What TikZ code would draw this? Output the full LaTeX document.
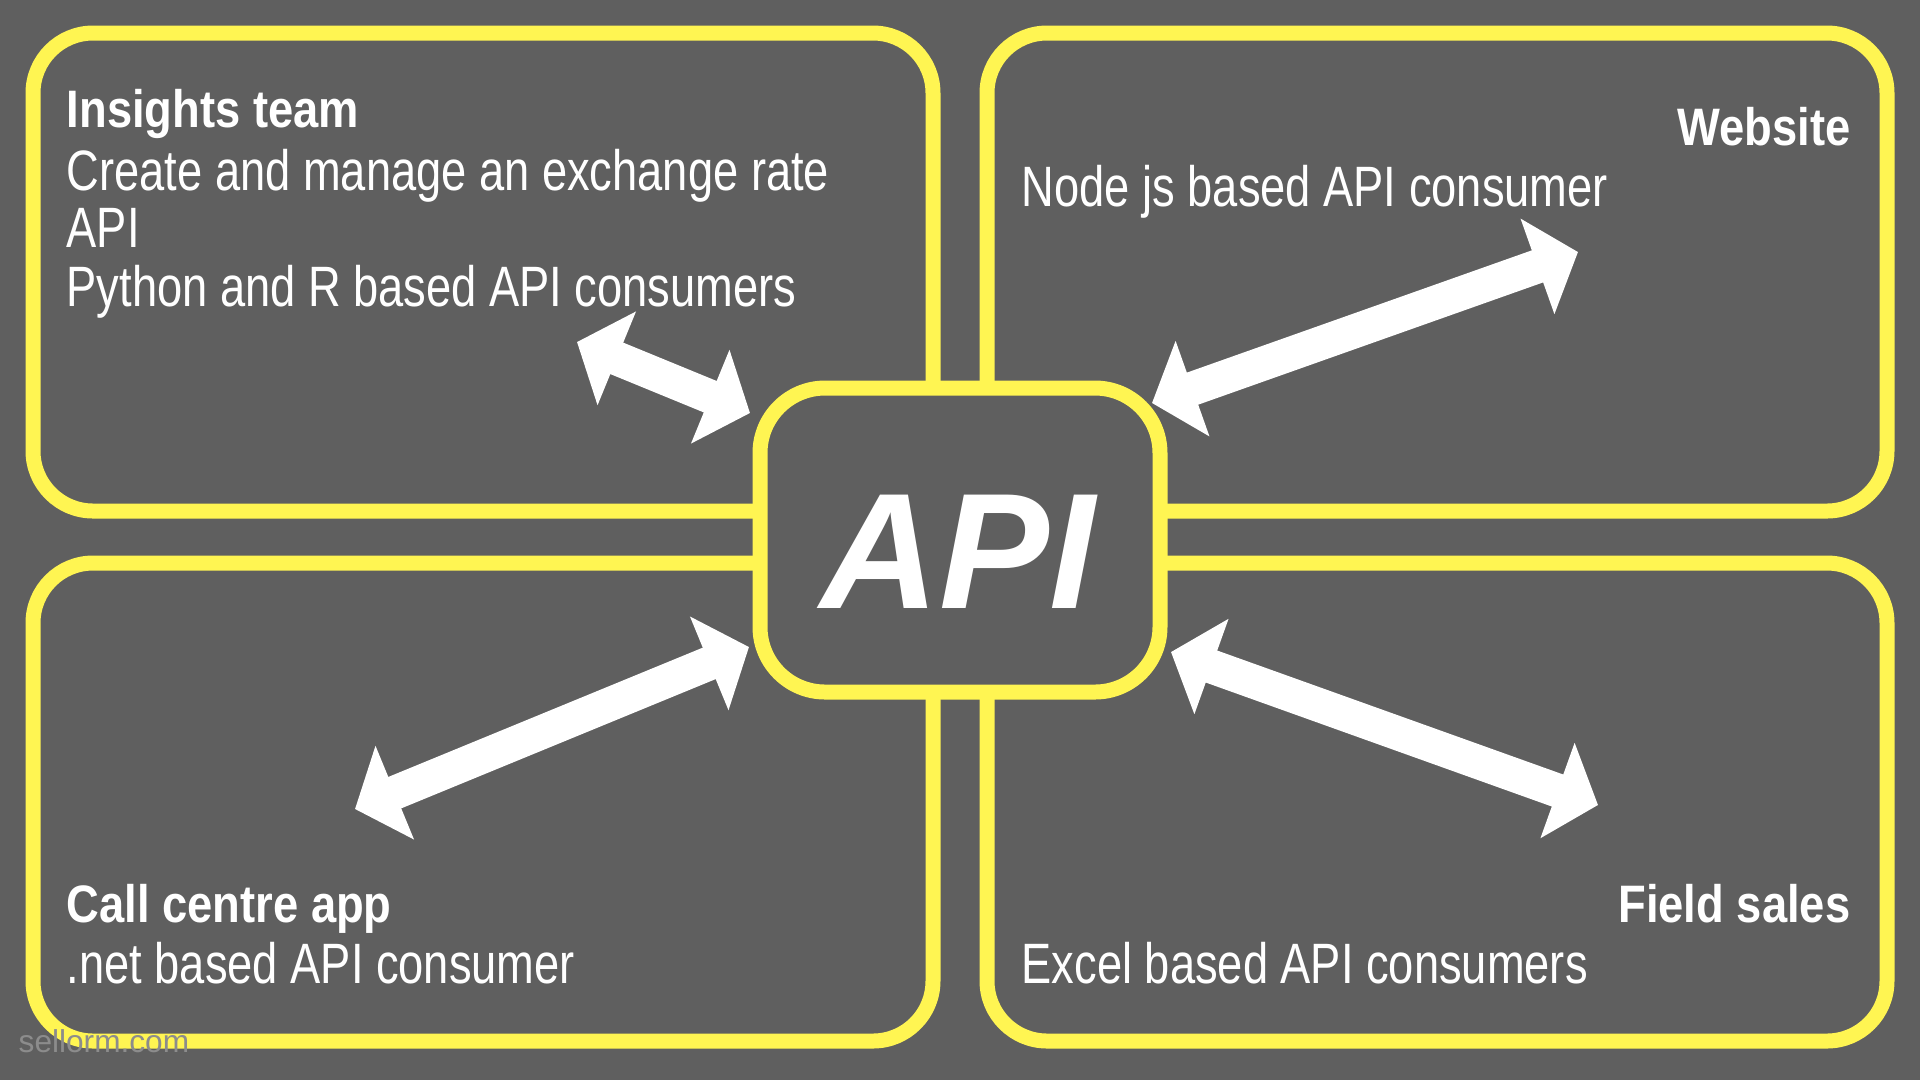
\documentclass[tikz,border=0pt]{standalone}
\usepackage{fontspec}
\usetikzlibrary{arrows.meta}
\newfontfamily\bodyfont[FakeStretch=0.795]{Liberation Sans}
\newfontfamily\headfont[FakeStretch=0.86]{Liberation Sans}
\newfontfamily\apifont{Liberation Sans}
\newfontfamily\markfont{Liberation Sans}
\definecolor{slate}{HTML}{5F5F5F}
\definecolor{lemon}{HTML}{FFF552}
\definecolor{markgray}{HTML}{8C8C8C}

\begin{document}
\begin{tikzpicture}[x=0.1mm,y=-0.1mm]
  \tikzset{
    panel/.style={draw=lemon,line width=1.5mm,rounded corners=6mm,minimum width=90mm,minimum height=47.8mm},
    head/.style={text=white,inner sep=0,font=\headfont\bfseries\fontsize{15}{16}\selectfont},
    body/.style={text=white,inner sep=0,font=\bodyfont\fontsize{16.2}{18}\selectfont},
    twoway/.style={draw=white,line width=3.4mm,{Triangle[length=4.3mm,width=9.9mm]}-{Triangle[length=4.3mm,width=9.9mm]}}
  }
  \fill[slate] (0,0) rectangle (1920,1080);
  \useasboundingbox (0,0) rectangle (1920,1080);

  % the four teams
  \node[panel] (insightsbox) at (483,272) {};
  \node[panel] (websitebox) at (1437,272) {};
  \node[panel] (callbox) at (483,802) {};
  \node[panel] (fieldbox) at (1437,802) {};

  % the api in the middle
  \node[draw=lemon,fill=slate,line width=1.5mm,rounded corners=6.5mm,minimum width=40mm,minimum height=30.4mm,outer sep=0] (api) at (960,540) {};
  \node[text=white,font=\apifont\bfseries\itshape\fontsize{46.9}{50}\selectfont] (apilabel) at (958,552) {API};

  \node[head,anchor=base west] (insights) at (66,127) {Insights team};
  \node[body,anchor=base west] (insightsA) at (66,190) {Create and manage an exchange rate};
  \node[body,anchor=base west] (insightsB) at (66,247) {API};
  \node[body,anchor=base west] (insightsC) at (66,306) {Python and R based API consumers};

  \node[head,anchor=base east] (website) at (1851,145) {Website};
  \node[body,anchor=base west] (websiteA) at (1021,206) {Node js based API consumer};

  \node[head,anchor=base west] (call) at (66,922) {Call centre app};
  \node[body,anchor=base west] (callA) at (66,983) {.net based API consumer};

  \node[head,anchor=base east] (field) at (1851,922) {Field sales};
  \node[body,anchor=base west] (fieldA) at (1021,983) {Excel based API consumers};

  % arrows
  \coordinate (insightsend) at (577,342);
  \coordinate (websiteend) at (1578,252);
  \coordinate (callend) at (355,809);
  \coordinate (fieldend) at (1598,805);
  \draw[twoway] (insightsend) -- ([shift={(-10,25)}]api.north west);
  \draw[twoway] (websiteend) -- ([shift={(-8,15)}]api.north east);
  \draw[twoway] (callend) -- ([shift={(-11,-45)}]api.south west);
  \draw[twoway] (fieldend) -- ([shift={(11,-40)}]api.south east);

  \node[anchor=base west,inner sep=0,text=markgray,font=\markfont\fontsize{9}{10}\selectfont] (mark) at (18,1052) {sellorm.com};
\end{tikzpicture}
\end{document}
